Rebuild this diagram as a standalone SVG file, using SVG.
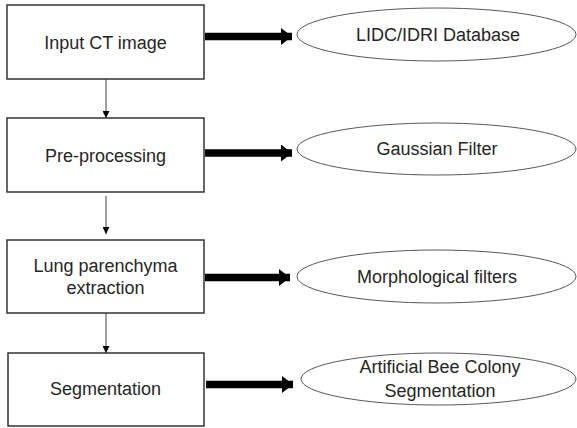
<svg xmlns="http://www.w3.org/2000/svg" width="577" height="428" viewBox="0 0 577 428">
<style>
.box{fill:#fff;stroke:#262626;stroke-width:1.4}
.ell{fill:#fff;stroke:#595959;stroke-width:1}
.t{font-family:"Liberation Sans",Arial,sans-serif;font-size:18px;fill:#262626;text-anchor:middle}
.thin{stroke:#404040;stroke-width:1;fill:none}
.thick{stroke:#000;stroke-width:7.5;fill:none}
</style>
<defs>
<marker id="sm" markerUnits="userSpaceOnUse" markerWidth="8" markerHeight="7" refX="7" refY="3.5" orient="auto">
<path d="M0,0 L7,3.5 L0,7 Z" fill="#000"/>
</marker>
<marker id="big" markerUnits="userSpaceOnUse" markerWidth="12" markerHeight="17" refX="11" refY="8.5" orient="auto">
<path d="M0,0 L11,8.5 L0,17 Z" fill="#000"/>
</marker>
</defs>
<g id="connectors">
<line class="thin" x1="106" y1="79" x2="106" y2="118" marker-end="url(#sm)"/>
<line class="thin" x1="106" y1="196" x2="106" y2="234" marker-end="url(#sm)"/>
<line class="thin" x1="106" y1="313" x2="106" y2="353" marker-end="url(#sm)"/>
<line class="thick" x1="205" y1="36.5" x2="292" y2="36.5" marker-end="url(#big)"/>
<line class="thick" x1="205" y1="153" x2="292" y2="153" marker-end="url(#big)"/>
<line class="thick" x1="205" y1="277.5" x2="290" y2="277.5" marker-end="url(#big)"/>
<line class="thick" x1="206" y1="384.5" x2="293" y2="384.5" marker-end="url(#big)"/>
</g>
<g id="n1"><rect class="box" x="7" y="5" width="197" height="74"/><text class="t" x="105.5" y="48.5">Input CT image</text></g>
<g id="n2"><rect class="box" x="7" y="118" width="197" height="74"/><text class="t" x="105.5" y="162">Pre-processing</text></g>
<g id="n3"><rect class="box" x="7" y="240" width="197" height="73"/><text class="t" x="105.5" y="271.5">Lung parenchyma</text><text class="t" x="105.5" y="294">extraction</text></g>
<g id="n4"><rect class="box" x="8" y="353" width="196" height="73"/><text class="t" x="105.5" y="395">Segmentation</text></g>
<g id="e1"><ellipse class="ell" cx="436.5" cy="34.5" rx="139.5" ry="26.5"/><text class="t" x="438" y="40.5">LIDC/IDRI Database</text></g>
<g id="e2"><ellipse class="ell" cx="436.5" cy="149" rx="139.5" ry="26"/><text class="t" x="437" y="155">Gaussian Filter</text></g>
<g id="e3"><ellipse class="ell" cx="436.5" cy="276.5" rx="139.5" ry="26.5"/><text class="t" x="437" y="283">Morphological filters</text></g>
<g id="e4"><ellipse class="ell" cx="438.5" cy="379" rx="137.5" ry="26"/><text class="t" x="440" y="373">Artificial Bee Colony</text><text class="t" x="440" y="397">Segmentation</text></g>
</svg>
